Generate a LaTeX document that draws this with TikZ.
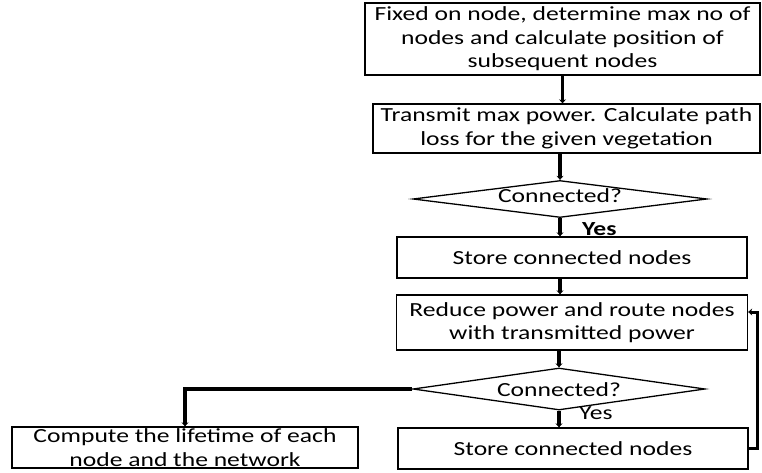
\documentclass[tikz,border=0pt]{standalone}
\usepackage{fontspec}
\setmainfont{Carlito}[FakeStretch=1.28]
\usepackage{tikz}
\usetikzlibrary{arrows.meta,shapes.geometric}

\begin{document}
\begin{tikzpicture}[x=1pt,y=1pt,
    box/.style={draw,line width=1.3pt,align=center,inner sep=0pt,font=\fontsize{20}{23.5}\selectfont},
    decide/.style={draw,diamond,line width=1.3pt,inner sep=0pt,aspect=7,font=\fontsize{20}{24}\selectfont},
    flow/.style={line width=3.8pt,-{Stealth[length=4pt,width=7pt]}},
    ans/.style={font=\fontsize{20}{24}\selectfont,anchor=west,inner sep=0pt}]
    \useasboundingbox (0,0) rectangle (762,472);
    \node[box,minimum width=395,minimum height=72] (fix) at (562.5,433) {Fixed on node, determine max no of\\nodes and calculate position of\\subsequent nodes};
    \node[box,minimum width=387,minimum height=49] (tx) at (566.5,343.5) {Transmit max power. Calculate path\\loss for the given vegetation};
    \node[decide,minimum width=294,minimum height=37] (conA) at (560,273) {};
    \node[font=\fontsize{20}{24}\selectfont,inner sep=0pt] (conAt) at (560,276) {Connected?};
    \node[box,minimum width=350,minimum height=41] (storeA) at (572,214.5) {Store connected nodes};
    \node[box,minimum width=351,minimum height=55] (reduce) at (572,149.5) {Reduce power and route nodes\\with transmitted power};
    \node[decide,minimum width=292,minimum height=42] (conB) at (559,83) {};
    \node[font=\fontsize{20}{24}\selectfont,inner sep=0pt] (conBt) at (559,82) {Connected?};
    \node[box,minimum width=350,minimum height=41] (storeB) at (573,23.5) {Store connected nodes};
    \node[box,minimum width=346,minimum height=41] (life) at (185,24.5) {Compute the lifetime of each\\node and the network};
    \node[ans,font=\bfseries\fontsize{20}{24}\selectfont] (yesA) at (582,243) {Yes};
    \node[ans] (yesB) at (579,59) {Yes};

    \draw[flow] (fix.south) to (fix.south |- tx.north);
    \draw[flow] (conA.north |- tx.south) to (conA.north);
    \draw[flow] (conA.south) to (conA.south |- storeA.north);
    \draw[flow] (conA.south |- storeA.south) to (conA.south |- reduce.north);
    \draw[flow] (conB.north |- reduce.south) to (conB.north);
    \draw[flow] (conB.south) to (conB.south |- storeB.north);
    \draw[flow] (conB.west) -| (life.north);
    \draw[flow,line width=3pt] (storeB.east) -- ++(9,0) |- ([yshift=10.5pt]reduce.east);
\end{tikzpicture}
\end{document}
